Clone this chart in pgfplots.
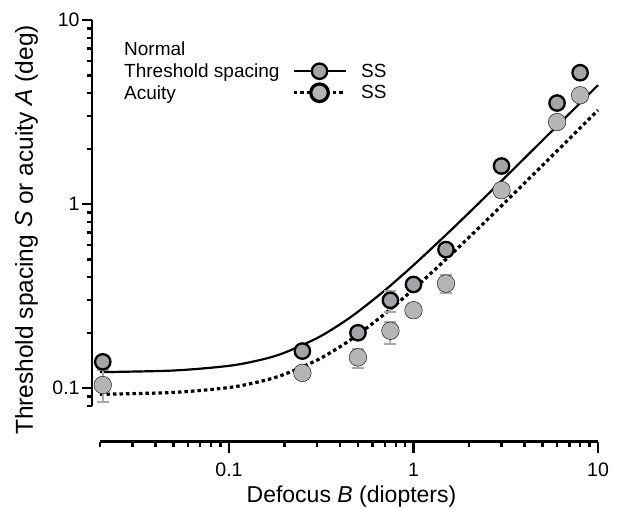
\documentclass[border=0pt]{standalone}
\usepackage{fontspec}
\setmainfont{Liberation Sans}
\usepackage{pgfplots}
\pgfplotsset{compat=1.18}
\definecolor{thrfill}{RGB}{163,164,167}
\definecolor{acufill}{RGB}{180,181,183}
\definecolor{errgray}{RGB}{168,169,171}
\newcommand{\tl}[1]{\mbox{\fontsize{19.5}{22}\selectfont #1}}
\begin{document}
\begin{tikzpicture}[x=1pt,y=1pt]
\useasboundingbox (0,0) rectangle (619,510);
% y axis
\begin{axis}[xmode=log, ymode=log, xmin=0.02, xmax=10, ymin=0.08, ymax=10,
  width=498pt, height=386pt, scale only axis, anchor=south west, at={(92pt,104pt)},
  axis line style={line width=2.8pt},
  tick align=outside, major tick length=10pt, minor tick length=5pt,
  tick style={line width=2.2pt, black},
  /pgf/number format/assume math mode=true,
  axis y line*=left, axis x line=none,
  ytick={0.1,1,10}, yticklabels={\tl{0.1},\tl{1},\tl{10}},
  yticklabel style={xshift=1pt},
  minor ytick={0.08,0.09,0.2,0.3,0.4,0.5,0.6,0.7,0.8,0.9,2,3,4,5,6,7,8,9},
  ylabel={Threshold spacing \textit{S} or acuity \textit{A} (deg)},
  every axis y label/.style={at={(axis description cs:-0.1315,0.456)}, rotate=90, anchor=center, font=\fontsize{24.5}{28}\selectfont},
]
\end{axis}
% x axis
\begin{axis}[xmode=log, ymode=log, xmin=0.02, xmax=10, ymin=0.08, ymax=10,
  width=498pt, height=386pt, scale only axis, anchor=south west, at={(100pt,68.3pt)},
  axis line style={line width=2.8pt},
  tick align=outside, major tick length=11pt, minor tick length=5.5pt,
  tick style={line width=2.2pt, black},
  /pgf/number format/assume math mode=true,
  axis x line*=bottom, axis y line=none,
  xtick={0.1,1,10}, xticklabels={\tl{0.1},\tl{1},\tl{10}},
  xticklabel style={yshift=-7pt},
  minor xtick={0.02,0.03,0.04,0.05,0.06,0.07,0.08,0.09,0.2,0.3,0.4,0.5,0.6,0.7,0.8,0.9,2,3,4,5,6,7,8,9},
  xlabel={Defocus \textit{B} (diopters)},
  every axis x label/.style={at={(axis description cs:0.505,-0.1588)}, anchor=base, font=\fontsize{23}{27}\selectfont},
]
\end{axis}
% data
\begin{axis}[xmode=log, ymode=log, xmin=0.02, xmax=10, ymin=0.08, ymax=10,
  width=498pt, height=386pt, scale only axis, anchor=south west, at={(100pt,104pt)},
  hide axis, clip=false,
  legend style={at={(axis description cs:0.385,0.838)}, anchor=west, draw=none, fill=none,
    font=\fontsize{19}{22}\selectfont, inner sep=0pt, row sep=5pt, nodes={inner sep=0pt},
    /tikz/every odd column/.append style={column sep=14pt}},
  legend image code/.code={\draw[mark repeat=2,mark phase=2,#1] plot coordinates {(0pt,0pt) (26pt,0pt) (52pt,0pt)};},
]
% fitted curves
\addplot[black, line width=2.2pt, smooth, forget plot] coordinates {
(0.02,0.1222) (0.05,0.1247) (0.1,0.1322) (0.15,0.1428) (0.2,0.1558) (0.3,0.1870)
(0.4,0.2223) (0.5,0.2601) (0.7,0.3401) (1,0.4656) (1.5,0.6802) (2,0.8977)
(3,1.3361) (5,2.2169) (7,3.0994) (10,4.4240)};
\addplot[black, line width=3.2pt, dash pattern=on 3.5pt off 3pt, smooth, forget plot] coordinates {
(0.02,0.0926) (0.05,0.0948) (0.1,0.1008) (0.15,0.1091) (0.2,0.1190) (0.3,0.1420)
(0.4,0.1679) (0.5,0.1955) (0.7,0.2537) (1,0.3449) (1.5,0.5012) (2,0.6597)
(3,0.9794) (5,1.6221) (7,2.2667) (10,3.2346)};
% error bars
\addplot[only marks, mark=none, forget plot,
  error bars/.cd, y dir=both, y explicit, error mark=-,
  error bar style={draw=errgray, line width=2pt, solid},
  error mark options={rotate=90, draw=errgray, line width=2pt, mark size=6pt}] coordinates {
(0.0207,0.104) += (0,0.021) -= (0,0.0197)
(0.5,0.147) += (0,0.017) -= (0,0.018)
(0.75,0.205) += (0,0.025) -= (0,0.032)
(1.5,0.37) += (0,0.04) -= (0,0.04)
(0.75,0.30) += (0,0.038) -= (0,0.04)
};
% acuity
\addplot[only marks, mark=*, mark size=8.8pt, mark options={fill=acufill, draw=none}, forget plot] coordinates {
(0.0207,0.104) (0.25,0.121) (0.5,0.147) (0.75,0.205) (1,0.265) (1.5,0.37) (3,1.19) (6,2.79) (8,3.90)};
% threshold spacing
\addplot[only marks, mark=*, mark size=7.7pt, mark options={fill=thrfill, draw=black, line width=2.3pt}, forget plot] coordinates {
(0.0207,0.139) (0.25,0.159) (0.5,0.200) (0.75,0.300) (1,0.366) (1.5,0.566) (3,1.61) (6,3.54) (8,5.17)};
\addlegendimage{black, line width=2.2pt, mark=*, mark size=7.7pt, mark options={fill=thrfill, draw=black, line width=2.3pt, solid}}
\addlegendentry{SS}
\addlegendimage{black, line width=3.2pt, dash pattern=on 3.5pt off 3pt, mark=*, mark size=8.8pt, mark options={fill=acufill, draw=none, solid}}
\addlegendentry{SS}
\end{axis}
\begin{scope}[every node/.style={font=\fontsize{19}{22}\selectfont, anchor=base west, inner sep=0pt}]
\node at (124pt,454pt) {Normal};
\node at (124pt,432pt) {Threshold spacing};
\node at (124pt,410pt) {Acuity};
\end{scope}
\end{tikzpicture}
\end{document}
